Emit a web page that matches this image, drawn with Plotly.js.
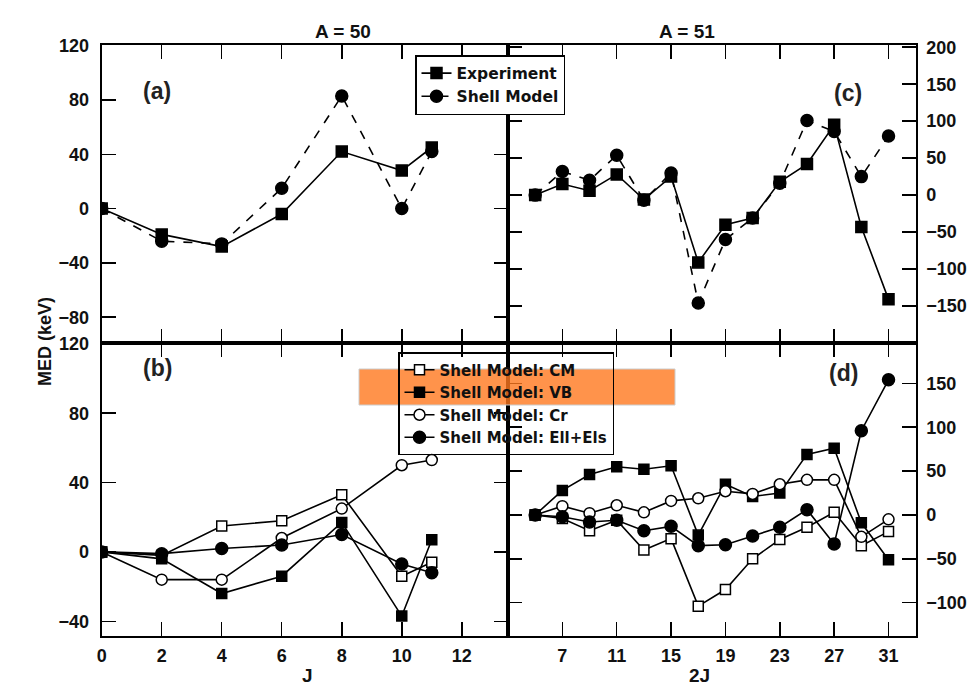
<!DOCTYPE html>
<html><head><meta charset="utf-8">
<script src="https://cdn.plot.ly/plotly-3.0.1.min.js"></script>
<style>html,body{margin:0;padding:0;background:#fff}#chart{width:977px;height:699px}</style>
</head><body><div id="chart"></div><script>
// ---- data ----
const J = [0, 2, 4, 6, 8, 10, 11];
const twoJ = [5, 7, 9, 11, 13, 15, 17, 19, 21, 23, 25, 27, 29, 31];

// panel (a): A = 50
const expA = [0, -19, -28, -4, 42, 28, 45];
const smA  = [0, -24, -26, 15, 83, 0, 42];
// panel (c): A = 51
const expC = [0, 15, 6, 28, -6, 25, -91, -40, -31, 18, 42, 95, -43, -141];
const smC  = [0, 32, 20, 54, -7, 30, -146, -60, -31, 16, 101, 86, 25, 80];
// panel (b): A = 50 components
const cmB = [0, -2, 15, 18, 33, -14, -6];
const vbB = [0, -4, -24, -14, 17, -37, 7];
const crB = [0, -16, -16, 8, 25, 50, 53];
const elB = [0, -1, 2, 4, 10, -7, -12];
// panel (d): A = 51 components
const cmD = [0, -4, -18, -6, -40, -27, -104, -85, -50, -28, -14, 3, -35, -19];
const vbD = [0, 28, 46, 55, 52, 56, -23, 35, 21, 25, 69, 76, -9, -51];
const crD = [0, 10, 2, 11, 3, 16, 19, 27, 24, 35, 40, 40, -25, -5];
const elD = [0, -2, -8, -6, -18, -13, -35, -34, -24, -14, 6, -33, 96, 154];

const jTicks = [0, 2, 4, 6, 8, 10, 12];
const twoJTicks = [7, 11, 15, 19, 23, 27, 31];
const names1 = ['Experiment', 'Shell Model'];
const names2 = ['Shell Model: CM', 'Shell Model: VB', 'Shell Model: Cr', 'Shell Model: Ell+Els'];

// ---- styling ----
const FF = 'Liberation Sans, Arial, Helvetica, sans-serif';
const LF = 'DejaVu Sans, Liberation Sans, sans-serif';
const tf = {family: FF, size: 18, color: '#111', weight: 'bold'};

function tr(x, y, xa, ya, name, sym, filled, dash, size, legend, show) {
  return {
    x: x, y: y, xaxis: xa, yaxis: ya, name: name, type: 'scatter', mode: 'lines+markers',
    line: {color: 'black', width: 1.6, dash: dash},
    marker: {symbol: sym, size: size, color: filled ? 'black' : 'white', line: {color: 'black', width: 1.5}},
    legend: legend, showlegend: show
  };
}

const data = [
  tr(J, expA, 'x', 'y', names1[0], 'square', true, 'solid', 11, 'legend', true),
  tr(J, smA, 'x', 'y', names1[1], 'circle', true, 'dash', 12, 'legend', true),
  tr(twoJ, expC, 'x2', 'y2', names1[0], 'square', true, 'solid', 11, 'legend', false),
  tr(twoJ, smC, 'x2', 'y2', names1[1], 'circle', true, 'dash', 12, 'legend', false),
  tr(J, cmB, 'x3', 'y3', names2[0], 'square', false, 'solid', 10, 'legend2', true),
  tr(J, vbB, 'x3', 'y3', names2[1], 'square', true, 'solid', 10, 'legend2', true),
  tr(J, crB, 'x3', 'y3', names2[2], 'circle', false, 'solid', 11, 'legend2', true),
  tr(J, elB, 'x3', 'y3', names2[3], 'circle', true, 'solid', 12, 'legend2', true),
  tr(twoJ, cmD, 'x4', 'y4', names2[0], 'square', false, 'solid', 10, 'legend2', false),
  tr(twoJ, vbD, 'x4', 'y4', names2[1], 'square', true, 'solid', 10, 'legend2', false),
  tr(twoJ, crD, 'x4', 'y4', names2[2], 'circle', false, 'solid', 11, 'legend2', false),
  tr(twoJ, elD, 'x4', 'y4', names2[3], 'circle', true, 'solid', 12, 'legend2', false)
];

function ax(extra) {
  return Object.assign({
    showline: true, linecolor: 'black', linewidth: 2, mirror: 'ticks',
    ticks: 'inside', ticklen: 14, tickwidth: 1.5, tickcolor: 'black',
    showgrid: false, zeroline: false, tickfont: tf, fixedrange: true
  }, extra);
}

const W = 977, H = 699;
const xL = 101.7 / W, xM = 508 / W, xR = 915.7 / W;
const yT = 1 - 45 / H, yMid = 1 - 343 / H, yB = 1 - 636 / H;

const layout = {
  width: W, height: H,
  margin: {l: 0, r: 0, t: 0, b: 0},
  paper_bgcolor: 'white', plot_bgcolor: 'white',
  font: {family: FF, size: 18, color: '#111', weight: 'bold'},
  xaxis:  ax({domain: [xL, xM], anchor: 'y',  range: [0, 13.54], tickvals: jTicks, showticklabels: false}),
  yaxis:  ax({domain: [yMid, yT], anchor: 'x', range: [-99, 120.5], tickvals: [-80, -40, 0, 40, 80, 120], side: 'left', ticklabelstandoff: 7}),
  xaxis2: ax({domain: [xM, xR], anchor: 'y2', range: [3, 33], tickvals: twoJTicks, showticklabels: false}),
  yaxis2: ax({domain: [yMid, yT], anchor: 'x2', range: [-200, 203], tickvals: [-150, -100, -50, 0, 50, 100, 150, 200], side: 'right', ticklabelstandoff: 5}),
  xaxis3: ax({domain: [xL, xM], anchor: 'y3', range: [0, 13.54], tickvals: jTicks, ticklabelstandoff: 2}),
  yaxis3: ax({domain: [yB, yMid], anchor: 'x3', range: [-48.5, 120.5], tickvals: [-40, 0, 40, 80, 120], side: 'left', ticklabelstandoff: 7}),
  xaxis4: ax({domain: [xM, xR], anchor: 'y4', range: [3, 33], tickvals: twoJTicks, ticklabelstandoff: 2}),
  yaxis4: ax({domain: [yB, yMid], anchor: 'x4', range: [-138, 196], tickvals: [-100, -50, 0, 50, 100, 150], side: 'right', ticklabelstandoff: 5}),
  legend: {
    x: 415 / W, y: 1 - 55 / H, xanchor: 'left', yanchor: 'top',
    bgcolor: 'white', bordercolor: 'black', borderwidth: 1.5,
    entrywidth: 135, entrywidthmode: 'pixels',
    font: {family: LF, size: 15.5, color: '#111', weight: 'bold'}, tracegroupgap: 0
  },
  legend2: {
    x: 398 / W, y: 1 - 352 / H, xanchor: 'left', yanchor: 'top',
    bgcolor: 'rgba(255,255,255,0)', bordercolor: 'black', borderwidth: 1.5,
    entrywidth: 215, entrywidthmode: 'pixels',
    font: {family: LF, size: 15, color: '#111', weight: 'bold'}, tracegroupgap: 0
  },
  shapes: [
    {type: 'rect', xref: 'paper', yref: 'paper', x0: 359 / W, x1: 675 / W, y0: 1 - 405 / H, y1: 1 - 369 / H,
     fillcolor: 'rgba(255,120,30,0.8)', line: {color: '#cccccc', width: 1}, layer: 'above'}
  ],
  annotations: [
    {text: 'A = 50', xref: 'paper', yref: 'paper', x: 313 / W, y: 1 - 19 / H, showarrow: false, font: {size: 19}},
    {text: 'A = 51', xref: 'paper', yref: 'paper', x: 717 / W, y: 1 - 19 / H, showarrow: false, font: {size: 19}},
    {text: 'MED (keV)', xref: 'paper', yref: 'paper', x: 33 / W, y: 1 - 342 / H, showarrow: false, textangle: -90, font: {size: 18}},
    {text: 'J', xref: 'paper', yref: 'paper', x: 300 / W, y: 1 - 688 / H, showarrow: false, font: {size: 19}},
    {text: '2J', xref: 'paper', yref: 'paper', x: 712 / W, y: 1 - 688 / H, showarrow: false, font: {size: 19}},
    {text: '(a)', xref: 'paper', yref: 'paper', x: 141 / W, y: 1 - 76 / H, showarrow: false, font: {size: 23, color: '#222'}},
    {text: '(c)', xref: 'paper', yref: 'paper', x: 864 / W, y: 1 - 78 / H, showarrow: false, font: {size: 23, color: '#222'}},
    {text: '(b)', xref: 'paper', yref: 'paper', x: 141 / W, y: 1 - 368 / H, showarrow: false, font: {size: 23, color: '#222'}},
    {text: '(d)', xref: 'paper', yref: 'paper', x: 860 / W, y: 1 - 373 / H, showarrow: false, font: {size: 23, color: '#222'}}
  ]
};

Plotly.newPlot('chart', data, layout, {displayModeBar: false, staticPlot: true});
</script></body></html>
